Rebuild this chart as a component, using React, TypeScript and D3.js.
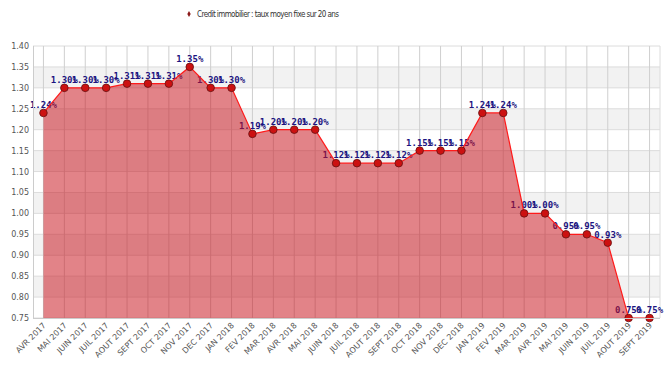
import React, { useEffect, useRef } from 'react';
import * as d3 from 'd3';

const months = [
  'AVR 2017', 'MAI 2017', 'JUIN 2017', 'JUIL 2017', 'AOUT 2017', 'SEPT 2017', 'OCT 2017', 'NOV 2017',
  'DEC 2017', 'JAN 2018', 'FEV 2018', 'MAR 2018', 'AVR 2018', 'MAI 2018', 'JUIN 2018', 'JUIL 2018',
  'AOUT 2018', 'SEPT 2018', 'OCT 2018', 'NOV 2018', 'DEC 2018', 'JAN 2019', 'FEV 2019', 'MAR 2019',
  'AVR 2019', 'MAI 2019', 'JUIN 2019', 'JUIL 2019', 'AOUT 2019', 'SEPT 2019',
];
const rates = [
  1.24, 1.30, 1.30, 1.30, 1.31, 1.31, 1.31, 1.35, 1.30, 1.30, 1.19, 1.20, 1.20, 1.20, 1.12, 1.12,
  1.12, 1.12, 1.15, 1.15, 1.15, 1.24, 1.24, 1.00, 1.00, 0.95, 0.95, 0.93, 0.75, 0.75,
];
const yTicks = [0.75, 0.8, 0.85, 0.9, 0.95, 1.0, 1.05, 1.1, 1.15, 1.2, 1.25, 1.3, 1.35, 1.4];
const seriesName = 'Credit immobilier : taux moyen fixe sur 20 ans';

export default function App() {
  const ref = useRef<SVGSVGElement>(null);

  useEffect(() => {
    const svg = d3.select(ref.current);
    svg.selectAll('*').remove();

    const left = 33, right = 660, top = 46, bottom = 318;
    const data = months.map((m, i) => ({ m, v: rates[i] }));

    const x = d3.scaleBand().domain(months).range([left, right]);
    const cx = (m: string) => (x(m) as number) + x.bandwidth() / 2;
    const y = d3.scaleLinear().domain([0.75, 1.4]).range([bottom, top]);

    // alternating bands
    svg.append('g')
      .selectAll('rect')
      .data(yTicks.slice(0, -1))
      .enter()
      .append('rect')
      .attr('x', left)
      .attr('width', right - left)
      .attr('y', d => y(d + 0.05))
      .attr('height', d => y(d) - y(d + 0.05))
      .attr('fill', (d, i) => ((yTicks.length - 2 - i) % 2 === 1 ? '#f2f2f2' : '#fff'));

    // grid
    svg.append('g')
      .selectAll('line')
      .data(yTicks)
      .enter()
      .append('line')
      .attr('x1', left).attr('x2', right)
      .attr('y1', d => y(d)).attr('y2', d => y(d))
      .attr('stroke', '#dcdcdc');
    svg.append('g')
      .selectAll('line')
      .data(months)
      .enter()
      .append('line')
      .attr('x1', d => cx(d)).attr('x2', d => cx(d))
      .attr('y1', top).attr('y2', bottom)
      .attr('stroke', '#cfcfcf');
    svg.append('line').attr('x1', right).attr('x2', right).attr('y1', top).attr('y2', bottom).attr('stroke', '#dcdcdc');

    // value labels (under the area)
    svg.append('g')
      .selectAll('text')
      .data(data)
      .enter()
      .append('text')
      .attr('x', d => cx(d.m))
      .attr('y', d => y(d.v) - 5)
      .attr('text-anchor', 'middle')
      .attr('font-family', 'DejaVu Sans Mono, monospace')
      .attr('font-weight', 'bold')
      .attr('font-size', 9)
      .attr('fill', '#1c1480')
      .text(d => d.v.toFixed(2) + '%');

    const area = d3.area<{ m: string; v: number }>()
      .x(d => cx(d.m))
      .y0(bottom)
      .y1(d => y(d.v));
    svg.append('path')
      .datum(data)
      .attr('d', area)
      .attr('fill', 'rgb(200,20,30)')
      .attr('fill-opacity', 0.53);

    const line = d3.line<{ m: string; v: number }>()
      .x(d => cx(d.m))
      .y(d => y(d.v));
    svg.append('path')
      .datum(data)
      .attr('d', line)
      .attr('fill', 'none')
      .attr('stroke', '#ff1a1a')
      .attr('stroke-width', 1.2);

    svg.append('g')
      .selectAll('circle')
      .data(data)
      .enter()
      .append('circle')
      .attr('cx', d => cx(d.m))
      .attr('cy', d => y(d.v))
      .attr('r', 3.8)
      .attr('fill', '#cc1111')
      .attr('stroke', '#661010')
      .attr('stroke-width', 0.8);

    // frame
    svg.append('line').attr('x1', left + 0.5).attr('x2', left + 0.5).attr('y1', top).attr('y2', bottom).attr('stroke', '#ccc');
    svg.append('line').attr('x1', left).attr('x2', right).attr('y1', bottom + 0.5).attr('y2', bottom + 0.5).attr('stroke', '#ccc');

    // y axis labels
    svg.append('g')
      .selectAll('text')
      .data(yTicks)
      .enter()
      .append('text')
      .attr('x', 29)
      .attr('y', d => y(d) + 3)
      .attr('text-anchor', 'end')
      .attr('font-family', 'DejaVu Sans, sans-serif')
      .attr('font-size', 8)
      .attr('fill', '#555')
      .text(d => d.toFixed(2));

    // x axis labels
    svg.append('g')
      .selectAll('text')
      .data(months)
      .enter()
      .append('text')
      .attr('transform', d => `translate(${cx(d) + 3},${bottom + 8}) rotate(-45)`)
      .attr('text-anchor', 'end')
      .attr('font-family', 'DejaVu Sans, sans-serif')
      .attr('font-size', 8)
      .attr('fill', '#555')
      .text(d => d);

    // legend
    const lg = svg.append('g').attr('transform', 'translate(189,14)');
    lg.append('path')
      .attr('d', d3.symbol().type(d3.symbolDiamond).size(10)())
      .attr('fill', '#8b1a1a');
    lg.append('text')
      .attr('x', 8)
      .attr('y', 3)
      .attr('font-family', 'DejaVu Sans Condensed, DejaVu Sans, sans-serif')
      .attr('font-size', 8)
      .attr('fill', '#333')
      .attr('textLength', 142)
      .text(seriesName);
  }, []);

  return (
    <svg ref={ref} width={672} height={390}
      style={{ position: 'absolute', left: 0, top: 0, background: '#fff' }} />
  );
}
